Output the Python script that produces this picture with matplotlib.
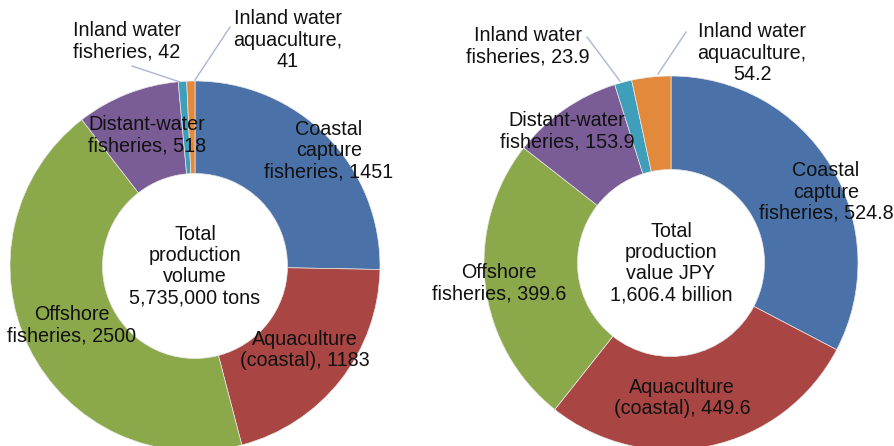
import matplotlib
matplotlib.use("Agg")
import matplotlib.pyplot as plt

plt.rcParams['font.family'] = ['Liberation Sans', 'DejaVu Sans']

# production volume (thousand tons)
volume = [1451, 1183, 2500, 518, 42, 41]
# production value (JPY billion)
value = [524.8, 449.6, 399.6, 153.9, 23.9, 54.2]

colors = ['#4A72A8', '#A94543', '#8BA84B', '#7A5C96', '#3F9EBA', '#E3893B']

vol_labels = ["Coastal\ncapture\nfisheries, 1451",
              "Aquaculture\n(coastal), 1183",
              "Offshore\nfisheries, 2500",
              "Distant-water\nfisheries, 518",
              "Inland water\nfisheries, 42",
              "Inland water\naquaculture,\n41"]
val_labels = ["Coastal\ncapture\nfisheries, 524.8",
              "Aquaculture\n(coastal), 449.6",
              "Offshore\nfisheries, 399.6",
              "Distant-water\nfisheries, 153.9",
              "Inland water\nfisheries, 23.9",
              "Inland water\naquaculture,\n54.2"]

vol_center_text = "Total\nproduction\nvolume\n5,735,000 tons"
val_center_text = "Total\nproduction\nvalue JPY\n1,606.4 billion"

H = 446


def draw_donut(ax, data, labels, center_text, cx, cy, r, label_pos, leaders):
    """
    - Args:
        - data (list): slice values
        - labels (list): slice labels
        - label_pos (list): (x, y) pixel positions for labels
        - leaders (list): ((x0, y0), (x1, y1)) for small slices
    """
    ax.pie(data, colors=colors, startangle=90, counterclock=False,
           center=(cx, H - cy), radius=r, frame=True,
           wedgeprops=dict(width=r * 0.5, edgecolor='#E8E8E8', linewidth=0.5))
    for lab, (x, y) in zip(labels, label_pos):
        ax.text(x, H - y, lab, ha='center', va='center', fontsize=14.2,
                linespacing=1.15, color='#111111')
    ax.text(cx, H - cy, center_text, ha='center', va='center', fontsize=14.2,
            linespacing=1.15, color='#111111')
    for (x0, y0), (x1, y1) in leaders:
        ax.plot([x0, x1], [H - y0, H - y1], color='#A9B8D2', lw=1.0)


def main():
    fig = plt.figure(figsize=(8.95, 4.46), dpi=100)
    ax = fig.add_axes([0, 0, 1, 1])
    draw_donut(ax, volume, vol_labels, vol_center_text, 195, 266, 185,
               [(329, 151), (305, 350), (72, 325), (147, 135), (127, 41), (288, 40)],
               [((132, 66), (180, 82)), ((230, 27), (195, 80))])
    draw_donut(ax, value, val_labels, val_center_text, 671, 263, 187,
               [(826, 192), (682, 398), (499, 283), (567, 131), (528, 46), (752, 53)],
               [((587, 37), (620, 81)), ((686, 32), (658, 74))])
    ax.set_xlim(0, 895)
    ax.set_ylim(0, H)
    ax.set_aspect('equal')
    ax.axis('off')
    fig.savefig("out.png", dpi=100)


if __name__ == '__main__':
    main()
